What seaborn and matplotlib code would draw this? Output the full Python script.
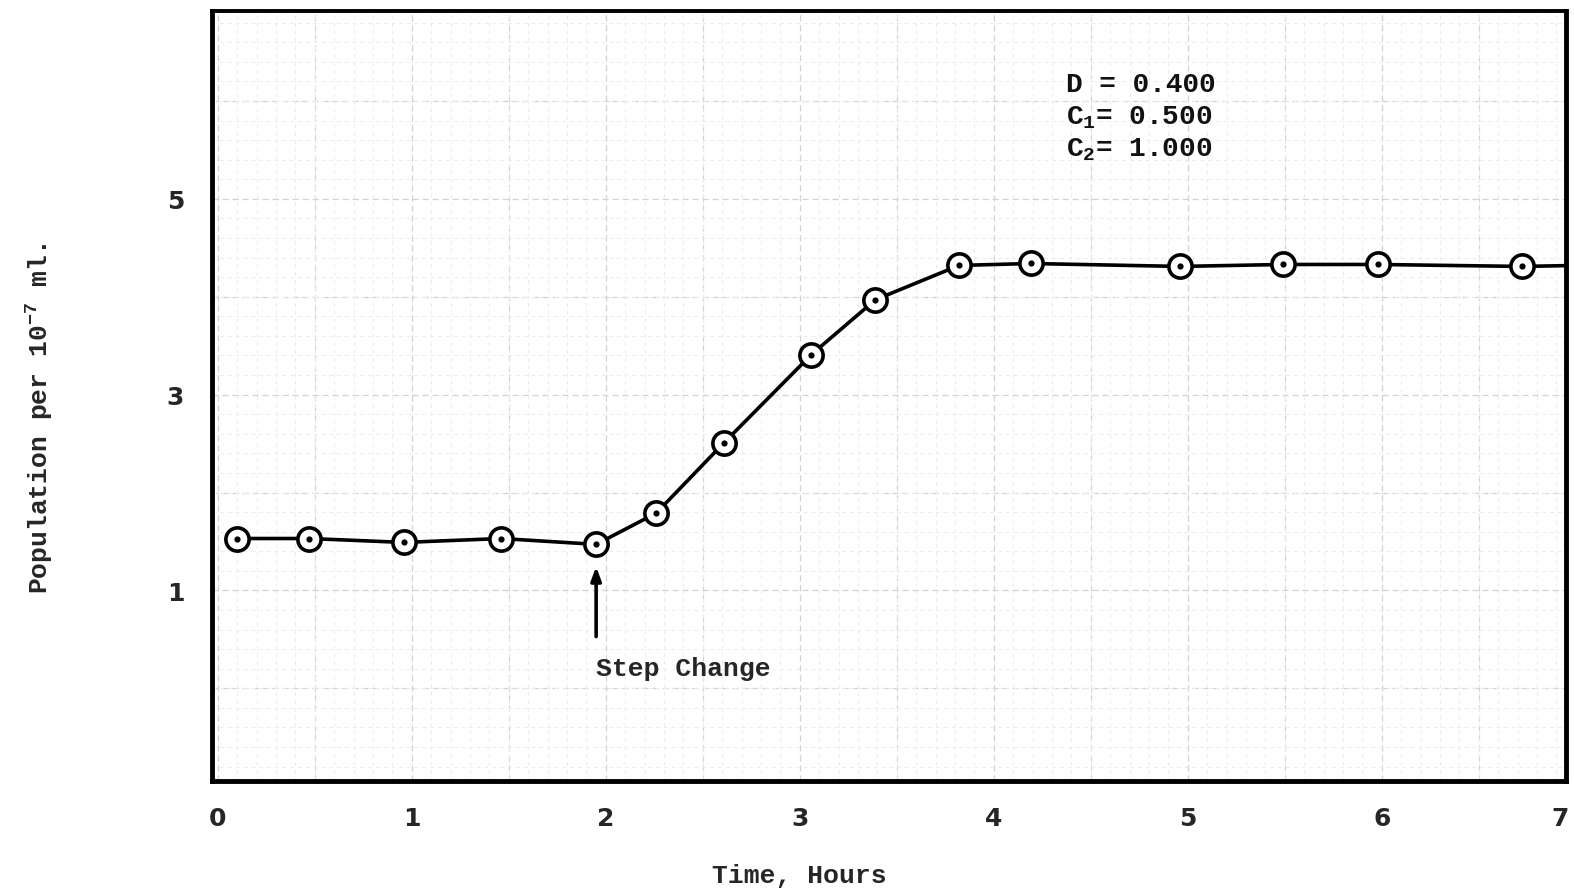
import matplotlib
matplotlib.use("Agg")
import matplotlib.pyplot as plt
import seaborn as sns
import pandas as pd
from matplotlib.ticker import MultipleLocator

# ---- data ----
hours = [0.10, 0.47, 0.96, 1.46, 1.95, 2.26, 2.61, 3.06, 3.39, 3.82, 4.19, 4.96, 5.49, 5.98, 6.72]
population = [1.53, 1.53, 1.49, 1.53, 1.47, 1.79, 2.51, 3.41, 3.97, 4.32, 4.34, 4.31, 4.33, 4.33, 4.31]
# the drawn curve continues past the last point to the frame edge
curve_hours = hours + [7.0]
curve_population = population + [4.32]

x_tick_pos = [0, 1, 2, 3, 4, 5, 6, 6.92]
x_tick_labels = ["0", "1", "2", "3", "4", "5", "6", "7"]
y_tick_pos = [1, 3, 5]
y_tick_labels = ["1", "3", "5"]
params_text = ["D = 0.400", "C$_1$= 0.500", "C$_2$= 1.000"]

sns.set_style("white")
plt.rcParams["font.family"] = ["Liberation Mono", "DejaVu Sans"]
plt.rcParams["font.weight"] = "bold"
plt.rcParams["mathtext.default"] = "regular"

fig = plt.figure(figsize=(15.74, 8.95), dpi=100)
ax = fig.add_axes([0.1347, 0.1260, 0.8603, 0.8606])

df_pts = pd.DataFrame({"t": hours, "p": population})
df_curve = pd.DataFrame({"t": curve_hours, "p": curve_population})

sns.lineplot(data=df_curve, x="t", y="p", ax=ax, color="black", lw=2.6,
             sort=True, zorder=3)
sns.scatterplot(data=df_pts, x="t", y="p", ax=ax, marker="o", s=280,
                facecolor="white", edgecolor="black", linewidth=2.6, zorder=4)
sns.scatterplot(data=df_pts, x="t", y="p", ax=ax, marker="o", s=20,
                color="black", linewidth=0, zorder=5)

ax.set_xlim(-0.03, 6.95)
ax.set_ylim(-0.95, 6.92)

# graph-paper grid
ax.xaxis.set_minor_locator(MultipleLocator(0.1))
ax.yaxis.set_minor_locator(MultipleLocator(0.2))
ax.set_xticks(x_tick_pos)
ax.set_xticklabels(x_tick_labels)
ax.set_yticks(y_tick_pos)
ax.set_yticklabels(y_tick_labels)
ax.grid(which="minor", color="#ececec", lw=0.7, ls=(0, (4, 4)))
ax.grid(which="major", visible=False)
for v in [i * 0.5 for i in range(15)]:
    ax.axvline(v, color="#d2d2d2", lw=0.9, ls=(0, (5, 3)), zorder=0)
for v in range(0, 7):
    ax.axhline(v, color="#d2d2d2", lw=0.9, ls=(0, (5, 3)), zorder=0)

ax.tick_params(axis="both", which="both", length=0)
ax.tick_params(axis="x", pad=18, labelsize=18)
ax.tick_params(axis="y", pad=20, labelsize=18)
for lab in ax.get_xticklabels() + ax.get_yticklabels():
    lab.set_fontfamily("DejaVu Sans")
    lab.set_fontweight("bold")

for side in ["left", "bottom", "right"]:
    ax.spines[side].set_linewidth(3.5)
    ax.spines[side].set_color("black")
ax.spines["top"].set_linewidth(2.8)
ax.spines["top"].set_color("black")

ax.set_xlabel("Time, Hours", fontsize=19, fontweight="bold")
ax.set_ylabel("Population per 10$^{-7}$ ml.", fontsize=19, fontweight="bold")
ax.xaxis.set_label_coords(0.434, -0.122)
ax.yaxis.set_label_coords(-0.127, 0.473)
ax.xaxis.label.set_va("center")
ax.yaxis.label.set_va("center")

# parameter block
for i, txt in enumerate(params_text):
    ax.text(4.37, 6.17 - i * 0.33, txt, fontsize=20, fontweight="bold",
            va="center", ha="left", color="#111111")

# step change arrow
ax.annotate("", xy=(1.95, 1.27), xytext=(1.95, 0.5),
            arrowprops=dict(arrowstyle="-|>,head_length=0.8,head_width=0.3",
                            color="black", lw=2.6))
ax.text(1.95, 0.21, "Step Change", fontsize=19, fontweight="bold",
        va="center", ha="left")

fig.savefig("out.png", dpi=100, facecolor="white")
